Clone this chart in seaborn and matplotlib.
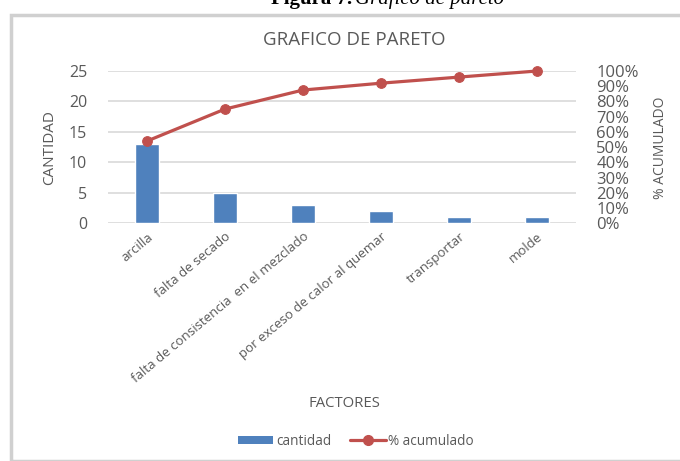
import matplotlib
matplotlib.use("Agg")
import matplotlib.pyplot as plt
import seaborn as sns
import numpy as np
import pandas as pd
from matplotlib.patches import Rectangle
from matplotlib.lines import Line2D
from matplotlib.ticker import PercentFormatter

factores = ["arcilla", "falta de secado", "falta de consistencia  en el mezclado",
            "por exceso de calor al quemar", "transportar", "molde"]
cantidad = [13, 5, 3, 2, 1, 1]
acumulado = [54, 75, 87.5, 92, 96, 100]

sns.set_theme(style="white")
plt.rcParams["font.family"] = ["Open Sans", "DejaVu Sans"]

TXT = "#595959"
BLUE = "#4F81BD"
RED = "#C0504D"
GRID = "#D9D9D9"

df = pd.DataFrame({"factor": factores, "cantidad": cantidad, "acumulado": acumulado,
                   "pos": np.arange(len(factores))})

fig = plt.figure(figsize=(6.8, 4.61), dpi=100)
ax = fig.add_axes([108/680, 1-223.3/461, (576-108)/680, (223.3-71)/461])

sns.barplot(data=df, x="factor", y="cantidad", color=BLUE, width=0.3, ax=ax,
            saturation=1, zorder=3)
ax.set_ylim(0, 25)
ax.set_yticks(range(0, 26, 5))
ax.set_xlim(-0.5, 5.5)
ax.grid(axis="y", color=GRID, linewidth=1.2, zorder=0)
ax.grid(axis="x", visible=False)
for s in ax.spines.values():
    s.set_visible(False)
ax.tick_params(axis="y", colors=TXT, labelsize=11.5, length=0, pad=15)
ax.tick_params(axis="x", colors=TXT, labelsize=9.5, length=0, pad=5)
ax.set_xticks(range(len(factores)))
ax.set_xticklabels(factores, rotation=40, ha="right", rotation_mode="anchor")
ax.set_xlabel("")
ax.set_ylabel("")
fig.text(50/680, 1-148/461, "CANTIDAD", rotation=90, ha="center", va="center",
         color=TXT, fontsize=11)

ax2 = ax.twinx()
sns.lineplot(data=df, x="pos", y="acumulado", ax=ax2, color=RED, linewidth=2.3,
             marker="o", markersize=7, markeredgecolor=RED, zorder=4, clip_on=False)
ax2.set_ylim(0, 100)
ax2.set_xlim(-0.5, 5.5)
ax2.set_yticks(range(0, 101, 10))
ax2.yaxis.set_major_formatter(PercentFormatter(decimals=0))
ax2.tick_params(axis="y", colors=TXT, labelsize=12, length=0, pad=14.5)
for s in ax2.spines.values():
    s.set_visible(False)
ax2.grid(False)
ax2.set_ylabel("")
ax2.set_xlabel("")
fig.text(660/680, 1-148/461, "% ACUMULADO", rotation=90, ha="center", va="center",
         color=TXT, fontsize=10)

fig.text(354/680, 1-40/461, "GRAFICO DE PARETO", ha="center", va="center",
         color=TXT, fontsize=13.5)
fig.text(344/680, 1-403/461, "FACTORES", ha="center", va="center",
         color=TXT, fontsize=10.7)

handles = [Rectangle((0, 0), 1, 1, facecolor=BLUE, edgecolor="none"),
           Line2D([0], [0], color=RED, lw=2.3, marker="o", markersize=7)]
fig.legend(handles, ["cantidad", "% acumulado"], loc="center",
           bbox_to_anchor=(356/680, 1-441/461), ncol=2, frameon=False,
           fontsize=9.8, labelcolor=TXT, handlelength=2.6, handleheight=0.5,
           handletextpad=0.2, columnspacing=1.4)

# chart border
fig.patches.append(Rectangle((11/680, 0), 1, 1-15/461, transform=fig.transFigure,
                             fill=False, edgecolor="#D0D0D0", linewidth=2.5))

# caption (cut off at the top, as in the source)
fig.text(352/680, 1-4/461, "Figura 7.", ha="right", va="baseline",
         fontsize=15, family="Liberation Serif", fontweight="bold", color="black")
fig.text(355/680, 1-4/461, "Gráfico de pareto", ha="left", va="baseline",
         fontsize=15, family="Liberation Serif", style="italic", color="black")

fig.savefig("out.png", dpi=100)
